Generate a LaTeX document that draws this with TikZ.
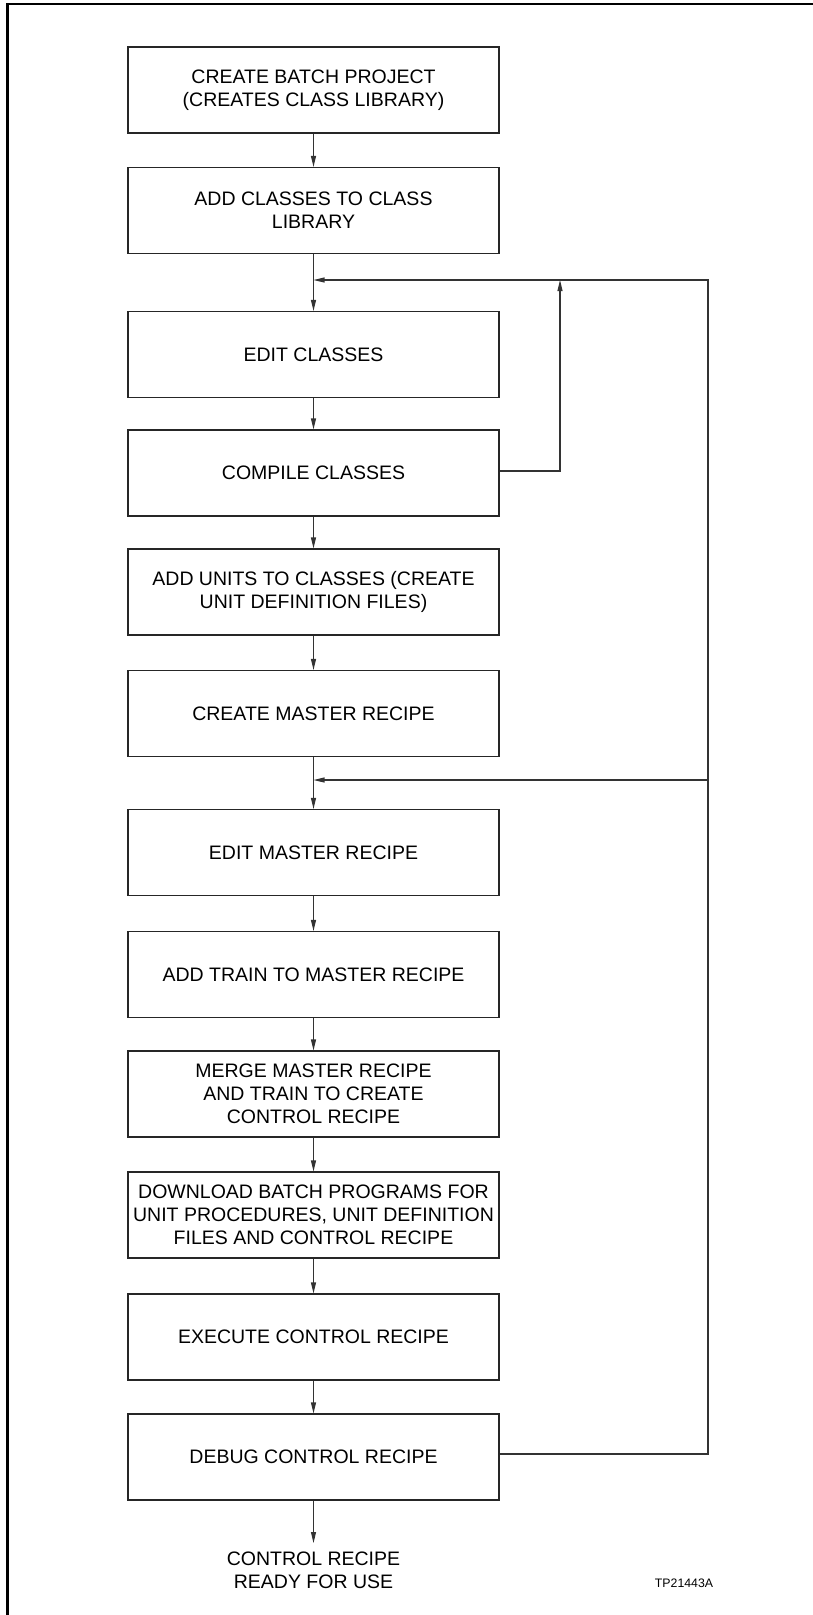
\documentclass[tikz,border=0pt]{standalone}
\usepackage{fontspec}
\setmainfont{Liberation Sans}
\usetikzlibrary{arrows.meta}
\begin{document}
\begin{tikzpicture}[x=1pt,y=-1pt,
  stepbox/.style={draw=black!85, line width=1.1pt, rectangle, minimum width=371pt, minimum height=86pt, inner sep=0pt, align=center, font=\fontsize{19.5}{23}\selectfont},
  conn/.style={draw=black!80, line width=1.1pt},
  arr/.style={conn, -{Triangle[length=11pt,width=5pt]}},
  lbl/.style={align=center, inner sep=0pt, font=\fontsize{19.5}{23}\selectfont}]
\useasboundingbox (0,0) rectangle (813,1615);
\draw[line width=2.2pt] (7.5,1615) -- (7.5,4.3) -- (813,4.3);

\node[stepbox] (b1) at (313.5,90) {CREATE BATCH PROJECT\\(CREATES CLASS LIBRARY)};
\node[stepbox] (b2) at (313.5,210.5) {ADD CLASSES TO CLASS\\LIBRARY};
\node[stepbox] (b3) at (313.5,354.5) {EDIT CLASSES};
\node[stepbox] (b4) at (313.5,473) {COMPILE CLASSES};
\node[stepbox] (b5) at (313.5,592) {ADD UNITS TO CLASSES (CREATE\\UNIT DEFINITION FILES)};
\node[stepbox] (b6) at (313.5,713.5) {CREATE MASTER RECIPE};
\node[stepbox] (b7) at (313.5,852.5) {EDIT MASTER RECIPE};
\node[stepbox] (b8) at (313.5,974.5) {ADD TRAIN TO MASTER RECIPE};
\node[stepbox] (b9) at (313.5,1094) {MERGE MASTER RECIPE\\AND TRAIN TO CREATE\\CONTROL RECIPE};
\node[stepbox] (b10) at (313.5,1215) {DOWNLOAD BATCH PROGRAMS FOR\\UNIT PROCEDURES, UNIT DEFINITION\\FILES AND CONTROL RECIPE};
\node[stepbox] (b11) at (313.5,1337) {EXECUTE CONTROL RECIPE};
\node[stepbox] (b12) at (313.5,1457) {DEBUG CONTROL RECIPE};

\coordinate (j1) at (313.5,280);
\coordinate (j2) at (313.5,780);
\coordinate (c4) at (560,471);
\coordinate (c4t) at (560,280);
\coordinate (c12) at (708,1454);
\coordinate (c12t) at (708,280);
\coordinate (c12m) at (708,780);
\coordinate (endp) at (313.5,1543);

\node[lbl] (done) at (313.5,1570) {CONTROL RECIPE\\READY FOR USE};
\node[inner sep=0pt, font=\fontsize{12.3}{14}\selectfont] (tp) at (684,1583) {TP21443A};

\draw[arr] (b1) -- (b2);
\draw[arr] (b2) -- (b3);
\draw[arr] (b3) -- (b4);
\draw[arr] (b4) -- (b5);
\draw[arr] (b5) -- (b6);
\draw[arr] (b6) -- (b7);
\draw[arr] (b7) -- (b8);
\draw[arr] (b8) -- (b9);
\draw[arr] (b9) -- (b10);
\draw[arr] (b10) -- (b11);
\draw[arr] (b11) -- (b12);
\draw[arr] (b12) -- (endp);

\draw[arr] (b4.east |- c4) -- (c4) -- (c4t);
\draw[arr] (b12.east |- c12) -- (c12) -- (c12t) -- (j1);
\draw[arr] (c12m) -- (j2);
\end{tikzpicture}
\end{document}
